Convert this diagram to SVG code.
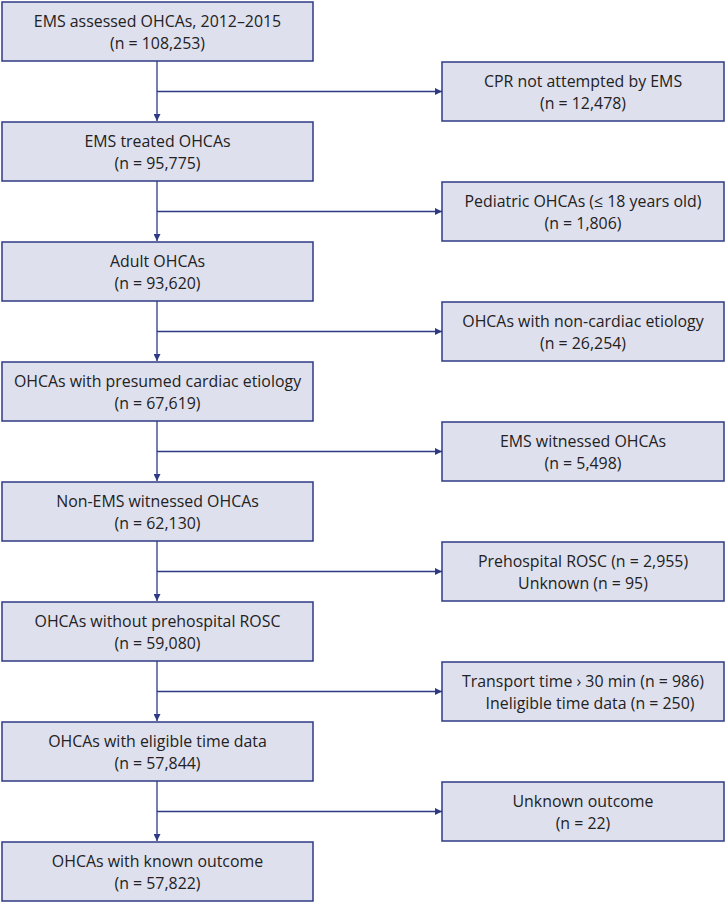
<svg xmlns="http://www.w3.org/2000/svg" width="726" height="904" viewBox="0 0 726 904">
<style>
.box{fill:#dfe0ee;stroke:#2f3a86;stroke-width:1.5}
.t{font-family:"Open Sans","Liberation Sans",sans-serif;font-size:15.9px;fill:#222;text-anchor:middle}
.c{stroke:#2f3a86;stroke-width:1.3;fill:none}
</style>
<defs>
<marker id="ah" viewBox="0 0 10 10" refX="10" refY="5" markerWidth="7" markerHeight="7" markerUnits="userSpaceOnUse" orient="auto">
<path d="M0,0 L10,5 L0,10 z" fill="#2f3a86"/>
</marker>
</defs>
<g id="connectors">
<path class="c" d="M157,61 V121" marker-end="url(#ah)"/>
<path class="c" d="M157,181 V241" marker-end="url(#ah)"/>
<path class="c" d="M157,301 V361" marker-end="url(#ah)"/>
<path class="c" d="M157,421 V481" marker-end="url(#ah)"/>
<path class="c" d="M157,541 V601" marker-end="url(#ah)"/>
<path class="c" d="M157,661 V721" marker-end="url(#ah)"/>
<path class="c" d="M157,781 V841" marker-end="url(#ah)"/>
<path class="c" d="M157,91.5 H442" marker-end="url(#ah)"/>
<path class="c" d="M157,211.5 H442" marker-end="url(#ah)"/>
<path class="c" d="M157,331.5 H442" marker-end="url(#ah)"/>
<path class="c" d="M157,451.5 H442" marker-end="url(#ah)"/>
<path class="c" d="M157,571.5 H442" marker-end="url(#ah)"/>
<path class="c" d="M157,691.5 H442" marker-end="url(#ah)"/>
<path class="c" d="M157,811.5 H442" marker-end="url(#ah)"/>
</g>
<g id="n1"><rect class="box" x="2" y="2" width="311" height="59"/><text class="t" x="157.5" y="27">EMS assessed OHCAs, 2012–2015</text><text class="t" x="157.5" y="49">(n = 108,253)</text></g>
<g id="n2"><rect class="box" x="2" y="122" width="311" height="59"/><text class="t" x="157.5" y="147">EMS treated OHCAs</text><text class="t" x="157.5" y="169">(n = 95,775)</text></g>
<g id="n3"><rect class="box" x="2" y="242" width="311" height="59"/><text class="t" x="157.5" y="267">Adult OHCAs</text><text class="t" x="157.5" y="289">(n = 93,620)</text></g>
<g id="n4"><rect class="box" x="2" y="362" width="311" height="59"/><text class="t" x="157.5" y="387">OHCAs with presumed cardiac etiology</text><text class="t" x="157.5" y="409">(n = 67,619)</text></g>
<g id="n5"><rect class="box" x="2" y="482" width="311" height="59"/><text class="t" x="157.5" y="507">Non-EMS witnessed OHCAs</text><text class="t" x="157.5" y="529">(n = 62,130)</text></g>
<g id="n6"><rect class="box" x="2" y="602" width="311" height="59"/><text class="t" x="157.5" y="627">OHCAs without prehospital ROSC</text><text class="t" x="157.5" y="649">(n = 59,080)</text></g>
<g id="n7"><rect class="box" x="2" y="722" width="311" height="59"/><text class="t" x="157.5" y="747">OHCAs with eligible time data</text><text class="t" x="157.5" y="769">(n = 57,844)</text></g>
<g id="n8"><rect class="box" x="2" y="842" width="311" height="59"/><text class="t" x="157.5" y="867">OHCAs with known outcome</text><text class="t" x="157.5" y="889">(n = 57,822)</text></g>
<g id="e1"><rect class="box" x="442" y="62" width="282" height="59"/><text class="t" x="583" y="87">CPR not attempted by EMS</text><text class="t" x="583" y="109">(n = 12,478)</text></g>
<g id="e2"><rect class="box" x="442" y="182" width="282" height="59"/><text class="t" x="583" y="207">Pediatric OHCAs (≤ 18 years old)</text><text class="t" x="583" y="229">(n = 1,806)</text></g>
<g id="e3"><rect class="box" x="442" y="302" width="282" height="59"/><text class="t" x="583" y="327">OHCAs with non-cardiac etiology</text><text class="t" x="583" y="349">(n = 26,254)</text></g>
<g id="e4"><rect class="box" x="442" y="422" width="282" height="59"/><text class="t" x="583" y="447">EMS witnessed OHCAs</text><text class="t" x="583" y="469">(n = 5,498)</text></g>
<g id="e5"><rect class="box" x="442" y="542" width="282" height="59"/><text class="t" x="583" y="567">Prehospital ROSC (n = 2,955)</text><text class="t" x="583" y="589">Unknown (n = 95)</text></g>
<g id="e6"><rect class="box" x="442" y="662" width="282" height="59"/><text class="t" x="583" y="687">Transport time › 30 min (n = 986)</text><text class="t" x="590" y="709">Ineligible time data (n = 250)</text></g>
<g id="e7"><rect class="box" x="442" y="782" width="282" height="59"/><text class="t" x="583" y="807">Unknown outcome</text><text class="t" x="583" y="829">(n = 22)</text></g>
</svg>
